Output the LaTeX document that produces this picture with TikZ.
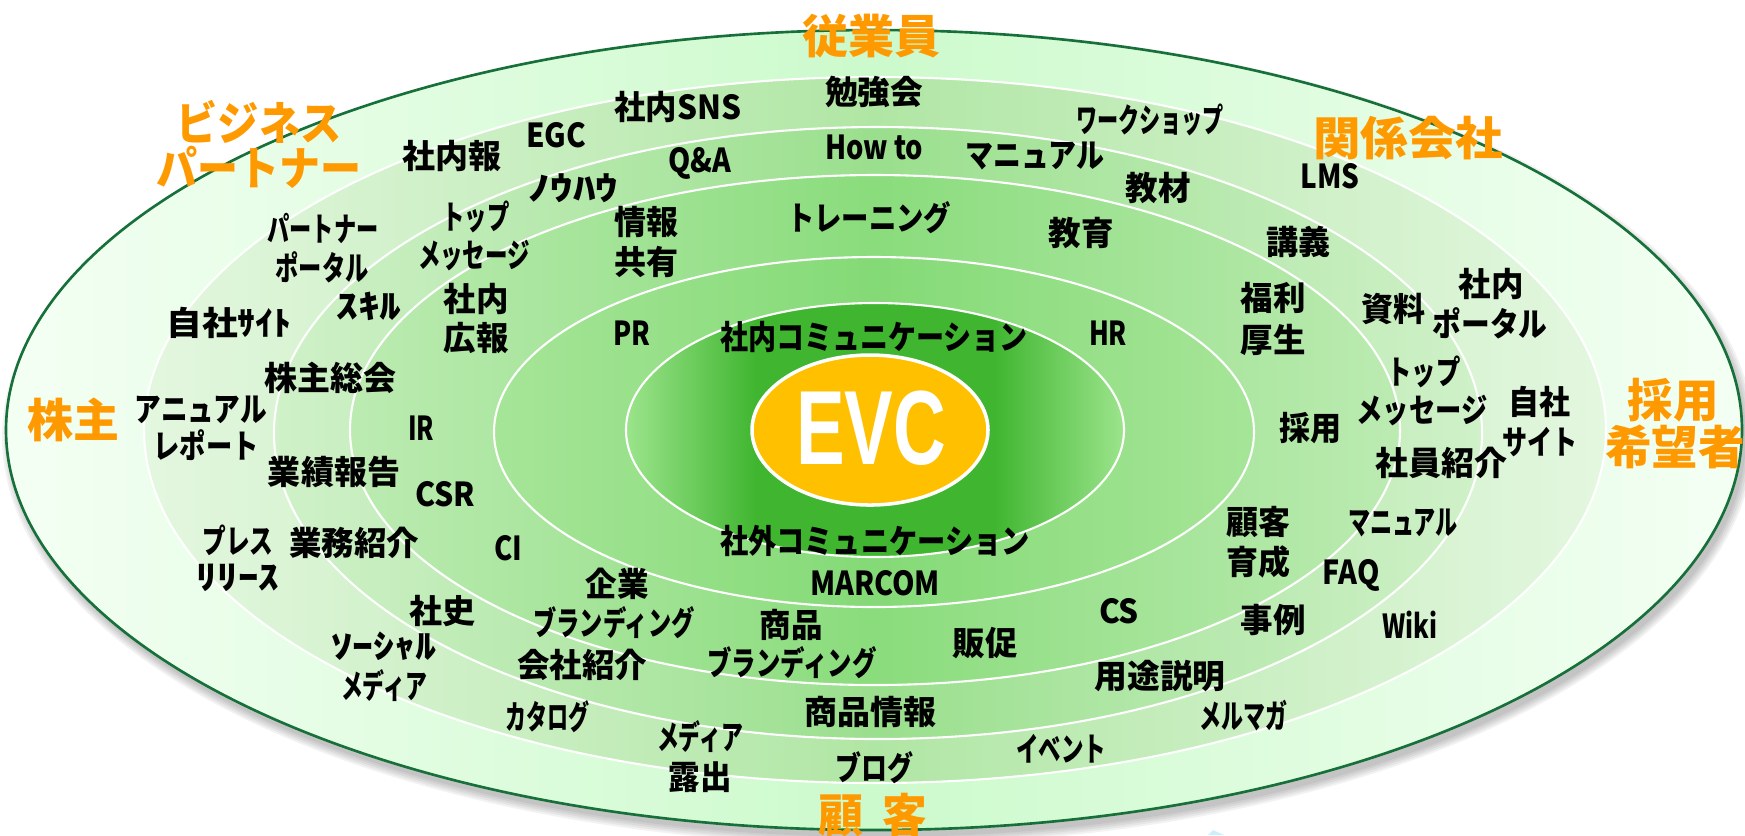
\documentclass[tikz,border=0pt]{standalone}
\usepackage{fontspec}
\usepackage{graphicx}
\setmainfont{Noto Sans CJK JP}
\newfontfamily\evcfont{Liberation Sans}
\definecolor{s0}{HTML}{F4FFF4}\definecolor{m0}{HTML}{CCFACC}
\definecolor{s1}{HTML}{E4F7E0}\definecolor{m1}{HTML}{B0E6A4}
\definecolor{s2}{HTML}{D0F1C9}\definecolor{m2}{HTML}{9ADF8D}
\definecolor{s3}{HTML}{BCEBB2}\definecolor{m3}{HTML}{8ADC7C}
\definecolor{s4}{HTML}{A6E598}\definecolor{m4}{HTML}{84DA76}
\definecolor{s5}{HTML}{9CE48C}\definecolor{m5}{HTML}{40B630}
\definecolor{outerline}{HTML}{17703A}
\definecolor{evcfill}{HTML}{FFC000}
\definecolor{orangeT}{HTML}{FF9900}
\pgfdeclarehorizontalshading{sh0}{100bp}{color(0bp)=(s0); color(25bp)=(s0); color(50bp)=(m0); color(75bp)=(s0); color(100bp)=(s0)}
\pgfdeclarehorizontalshading{sh1}{100bp}{color(0bp)=(s1); color(25bp)=(s1); color(50bp)=(m1); color(75bp)=(s1); color(100bp)=(s1)}
\pgfdeclarehorizontalshading{sh2}{100bp}{color(0bp)=(s2); color(25bp)=(s2); color(50bp)=(m2); color(75bp)=(s2); color(100bp)=(s2)}
\pgfdeclarehorizontalshading{sh3}{100bp}{color(0bp)=(s3); color(25bp)=(s3); color(50bp)=(m3); color(75bp)=(s3); color(100bp)=(s3)}
\pgfdeclarehorizontalshading{sh4}{100bp}{color(0bp)=(s4); color(25bp)=(s4); color(50bp)=(m4); color(75bp)=(s4); color(100bp)=(s4)}
\pgfdeclarehorizontalshading{sh5}{100bp}{color(0bp)=(s5); color(25bp)=(s5); color(38bp)=(m5); color(62bp)=(m5); color(75bp)=(s5); color(100bp)=(s5)}
\newcommand\W[2]{\resizebox{#1mm}{\height}{#2}}
\tikzset{
  lbl/.style={inner sep=0pt, text=black, font=\fontsize{9.4pt}{11pt}\selectfont\bfseries},
  org/.style={inner sep=0pt, text=orangeT, font=\fontsize{13.1pt}{15pt}\selectfont\bfseries},
  ringline/.style={draw=white, line width=0.6pt},
}
\begin{document}
\begin{tikzpicture}[x=0.1mm, y=-0.1mm]
\useasboundingbox (0,0) rectangle (1745,835);
% shadow
\foreach \d in {0,2,4,6,8}{
  \fill[black, opacity=0.05] (878,437) ellipse [x radius={(86.8+\d/10)*1mm}, y radius={(40+\d/10)*1mm}];
}
% rings
\shadedraw[shading=sh0, draw=outerline, line width=0.75pt] (874,430) ellipse [x radius=86.8mm, y radius=40mm];
\shadedraw[shading=sh1, ringline] (875,430) ellipse [x radius=73.1mm, y radius=35.3mm];
\shadedraw[shading=sh2, ringline] (878,433) ellipse [x radius=60.4mm, y radius=30.6mm];
\shadedraw[shading=sh3, ringline] (875,430) ellipse [x radius=52.5mm, y radius=25.5mm];
\shadedraw[shading=sh4, ringline] (874,432) ellipse [x radius=38.0mm, y radius=17.5mm];
\shadedraw[shading=sh5, ringline] (875,430) ellipse [x radius=24.9mm, y radius=12.7mm];
\draw[fill=evcfill, draw=white, line width=1pt] (870,430) ellipse [x radius=11.8mm, y radius=7.5mm];
\node[inner sep=0pt, text=white, font=\evcfont\bfseries\fontsize{30pt}{30pt}\selectfont] (evc) at (871,428) {\W{15}{EVC}};
% small fragment at bottom
\fill[cyan!20!white] (1208,835) -- (1213,830) -- (1224,835) -- cycle;
% orange group labels
\node[org] (g1) at (871,36) {\W{13.8}{従業員}};
\node[org] (g2a) at (259,122) {\W{16.5}{ビジネス}};
\node[org] (g2b) at (259,167) {\W{20.5}{パートナー}};
\node[org] (g3) at (1408,138) {\W{19.0}{関係会社}};
\node[org] (g4) at (73,420) {\W{9.2}{株主}};
\node[org] (g5a) at (1673,400) {\W{9.1}{採用}};
\node[org] (g5b) at (1675,447) {\W{14.0}{希望者}};
\node[org] (g6) at (873,815) {\W{10.9}{顧\hspace{2mm}客}};
% left labels
\node[lbl] (a1) at (452,156) {\W{9.9}{社内報}};
\node[lbl] (a2) at (556,135) {\W{6.0}{EGC}};
\node[lbl] (a3) at (573,188) {\W{8.9}{ﾉｳﾊｳ}};
\node[lbl] (a4a) at (323,228) {\W{11.1}{パートナー}};
\node[lbl] (a4b) at (322,267) {\W{9.3}{ポータル}};
\node[lbl] (a5a) at (476,217) {\W{6.7}{トップ}};
\node[lbl] (a5b) at (474,256) {\W{11.2}{メッセージ}};
\node[lbl] (a6) at (369,306) {\W{6.5}{ｽｷﾙ}};
\node[lbl] (a7a) at (476,299) {\W{6.5}{社内}};
\node[lbl] (a7b) at (476,338) {\W{6.5}{広報}};
\node[lbl] (a8) at (229,323) {\W{12.5}{自社ｻｲﾄ}};
\node[lbl] (a9) at (330,378) {\W{13.2}{株主総会}};
\node[lbl] (a10a) at (201,410) {\W{13.2}{アニュアル}};
\node[lbl] (a10b) at (206,445) {\W{10.5}{レポート}};
\node[lbl] (a11) at (421,428) {\W{2.6}{IR}};
\node[lbl] (a12) at (334,472) {\W{13.2}{業績報告}};
\node[lbl] (a13) at (445,494) {\W{6.0}{CSR}};
\node[lbl] (a14a) at (238,540) {\W{7.1}{プレス}};
\node[lbl] (a14b) at (238,578) {\W{8.2}{ﾘﾘｰｽ}};
\node[lbl] (a15) at (354,543) {\W{13.0}{業務紹介}};
\node[lbl] (a16) at (508,548) {\W{2.8}{CI}};
\node[lbl] (a17) at (442,611) {\W{6.6}{社史}};
\node[lbl] (a18a) at (384,646) {\W{10.5}{ｿｰｼｬﾙ}};
\node[lbl] (a18b) at (384,686) {\W{8.6}{メディア}};
\node[lbl] (a19) at (547,717) {\W{8.4}{カタログ}};
\node[lbl] (a20a) at (617,584) {\W{6.3}{企業}};
\node[lbl] (a20b) at (614,623) {\W{16.1}{ブランディング}};
\node[lbl] (a21) at (582,665) {\W{13.0}{会社紹介}};
% top labels
\node[lbl] (b1) at (874,92) {\W{9.8}{勉強会}};
\node[lbl] (b2) at (678,107) {\W{12.7}{社内SNS}};
\node[lbl] (b3) at (700,163) {\W{6.3}{Q\&A}};
\node[lbl] (b4) at (874,147) {\W{9.8}{How to}};
\node[lbl] (b5) at (1035,156) {\W{13.9}{マニュアル}};
\node[lbl] (b6) at (1150,120) {\W{14.8}{ワークショップ}};
\node[lbl] (b7) at (1158,188) {\W{6.5}{教材}};
\node[lbl] (b8a) at (646,222) {\W{6.4}{情報}};
\node[lbl] (b8b) at (646,262) {\W{6.4}{共有}};
\node[lbl] (b9) at (869,218) {\W{16.4}{トレーニング}};
\node[lbl] (b10) at (1081,233) {\W{6.5}{教育}};
\node[lbl] (b11) at (632,333) {\W{3.7}{PR}};
\node[lbl] (b12) at (874,337) {\W{30.8}{社内コミュニケーション}};
\node[lbl] (b13) at (1108,333) {\W{3.8}{HR}};
% right labels
\node[lbl] (c1) at (1330,176) {\W{5.9}{LMS}};
\node[lbl] (c2) at (1298,242) {\W{6.4}{講義}};
\node[lbl] (c3a) at (1273,298) {\W{6.5}{福利}};
\node[lbl] (c3b) at (1273,340) {\W{6.5}{厚生}};
\node[lbl] (c4) at (1393,309) {\W{6.4}{資料}};
\node[lbl] (c5a) at (1491,284) {\W{6.5}{社内}};
\node[lbl] (c5b) at (1490,323) {\W{11.5}{ポータル}};
\node[lbl] (c6a) at (1424,372) {\W{7.3}{トップ}};
\node[lbl] (c6b) at (1422,411) {\W{13.1}{メッセージ}};
\node[lbl] (c7a) at (1539,402) {\W{6.2}{自社}};
\node[lbl] (c7b) at (1540,442) {\W{7.5}{サイト}};
\node[lbl] (c8) at (1441,463) {\W{13.2}{社員紹介}};
\node[lbl] (c9) at (1403,523) {\W{11.0}{マニュアル}};
\node[lbl] (c10) at (1310,428) {\W{6.2}{採用}};
\node[lbl] (c11a) at (1258,522) {\W{6.4}{顧客}};
\node[lbl] (c11b) at (1258,562) {\W{6.4}{育成}};
\node[lbl] (c12) at (1351,575) {\W{5.7}{FAQ}};
\node[lbl] (c13) at (1273,620) {\W{6.5}{事例}};
\node[lbl] (c14) at (1410,625) {\W{5.5}{Wiki}};
\node[lbl] (c15) at (1243,716) {\W{8.8}{メルマガ}};
\node[lbl] (c16) at (1119,611) {\W{4.0}{CS}};
\node[lbl] (c17) at (1160,676) {\W{13.1}{用途説明}};
% bottom labels
\node[lbl] (d1) at (875,541) {\W{31.0}{社外コミュニケーション}};
\node[lbl] (d2) at (875,583) {\W{13.0}{MARCOM}};
\node[lbl] (d3a) at (791,625) {\W{6.3}{商品}};
\node[lbl] (d3b) at (792,663) {\W{16.9}{ブランディング}};
\node[lbl] (d4) at (985,643) {\W{6.5}{販促}};
\node[lbl] (d5) at (870,712) {\W{13.2}{商品情報}};
\node[lbl] (d6a) at (700,737) {\W{8.6}{メディア}};
\node[lbl] (d6b) at (700,777) {\W{6.3}{露出}};
\node[lbl] (d7) at (874,768) {\W{7.8}{ブログ}};
\node[lbl] (d8) at (1061,749) {\W{9.0}{イベント}};
\end{tikzpicture}
\end{document}
